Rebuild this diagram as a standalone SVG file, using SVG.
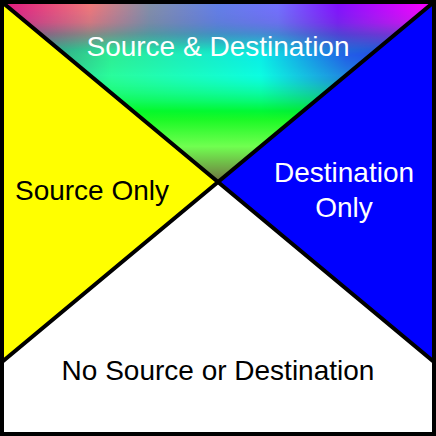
<svg xmlns="http://www.w3.org/2000/svg" width="436" height="436" viewBox="0 0 436 436">
<style>
.lbl{font-family:"Liberation Sans",Arial,sans-serif;font-size:28px;text-anchor:middle}
.w{fill:#ffffff}
.k{fill:#000000}
.edge{stroke:#000;stroke-width:4;fill:none;stroke-linecap:square}
</style>
<defs>
<linearGradient id="vbase" x1="0" y1="4" x2="0" y2="182" gradientUnits="userSpaceOnUse">
<stop offset="0" stop-color="#9060c0"/>
<stop offset="0.17" stop-color="#307890"/>
<stop offset="0.40" stop-color="#20f8b0"/>
<stop offset="0.60" stop-color="#00f818"/>
<stop offset="0.80" stop-color="#70ff50"/>
<stop offset="1" stop-color="#707040"/>
</linearGradient>
<linearGradient id="htop" x1="4" y1="0" x2="432" y2="0" gradientUnits="userSpaceOnUse">
<stop offset="0" stop-color="#e01880"/>
<stop offset="0.2" stop-color="#f07878"/>
<stop offset="0.34" stop-color="#8090a8"/>
<stop offset="0.5" stop-color="#6080e8"/>
<stop offset="0.64" stop-color="#7070ff"/>
<stop offset="0.78" stop-color="#8010ff"/>
<stop offset="1" stop-color="#ff00ff"/>
</linearGradient>
<linearGradient id="hmid" x1="4" y1="0" x2="432" y2="0" gradientUnits="userSpaceOnUse">
<stop offset="0" stop-color="#406070"/>
<stop offset="0.25" stop-color="#30ff90"/>
<stop offset="0.6" stop-color="#00ffff"/>
<stop offset="0.8" stop-color="#2040ff"/>
<stop offset="1" stop-color="#2000ff"/>
</linearGradient>
<linearGradient id="fadeTop" x1="0" y1="4" x2="0" y2="50" gradientUnits="userSpaceOnUse">
<stop offset="0" stop-color="#fff" stop-opacity="1"/>
<stop offset="0.4" stop-color="#fff" stop-opacity="0.8"/>
<stop offset="1" stop-color="#fff" stop-opacity="0"/>
</linearGradient>
<linearGradient id="fadeMid" x1="0" y1="20" x2="0" y2="120" gradientUnits="userSpaceOnUse">
<stop offset="0" stop-color="#fff" stop-opacity="0"/>
<stop offset="0.35" stop-color="#fff" stop-opacity="0.75"/>
<stop offset="0.6" stop-color="#fff" stop-opacity="0.6"/>
<stop offset="1" stop-color="#fff" stop-opacity="0"/>
</linearGradient>
<mask id="mTop"><rect x="0" y="0" width="436" height="200" fill="url(#fadeTop)"/></mask>
<mask id="mMid"><rect x="0" y="0" width="436" height="200" fill="url(#fadeMid)"/></mask>
<clipPath id="triClip"><polygon points="0,0 436,0 218,182"/></clipPath>
</defs>
<rect x="0" y="0" width="436" height="436" fill="#ffffff"/>
<g id="both">
<g clip-path="url(#triClip)">
<rect x="0" y="0" width="436" height="190" fill="url(#vbase)"/>
<rect x="0" y="0" width="436" height="190" fill="url(#hmid)" mask="url(#mMid)"/>
<rect x="0" y="0" width="436" height="190" fill="url(#htop)" mask="url(#mTop)"/>
</g>
<text class="lbl w" x="218" y="56">Source &amp; Destination</text>
</g>
<g id="source-only">
<polygon points="0,0 218,182 0,364" fill="#ffff00"/>
<text class="lbl k" x="92" y="200">Source Only</text>
</g>
<g id="destination-only">
<polygon points="436,0 218,182 436,364" fill="#0000ff"/>
<text class="lbl w" x="344" y="182">Destination</text>
<text class="lbl w" x="344" y="217">Only</text>
</g>
<g id="neither">
<text class="lbl k" x="218" y="380">No Source or Destination</text>
</g>
<g id="connectors">
<polyline class="edge" points="2,2 218,182 2,362"/>
<polyline class="edge" points="434,2 218,182 434,362"/>
</g>
<rect x="2" y="2" width="432" height="432" fill="none" stroke="#000" stroke-width="4"/>
</svg>
